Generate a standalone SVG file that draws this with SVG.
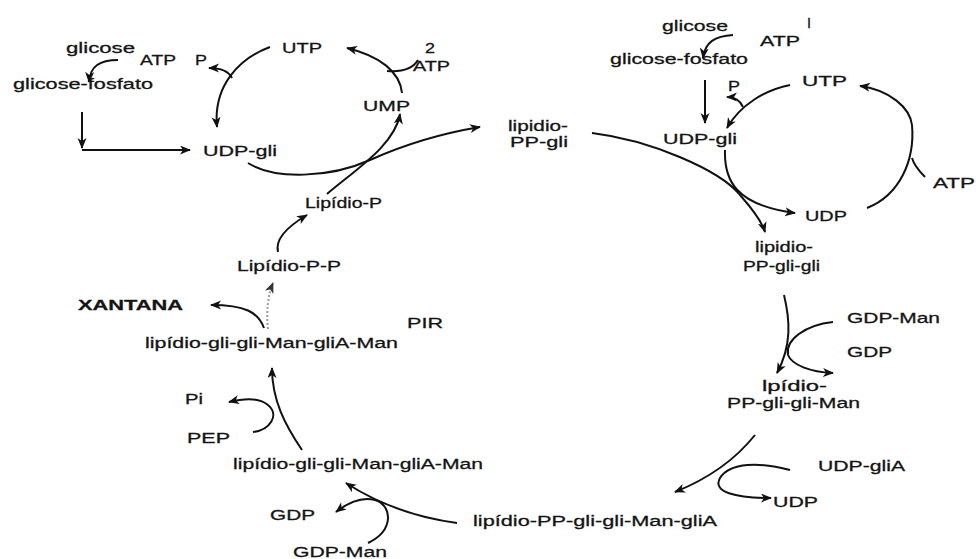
<svg xmlns="http://www.w3.org/2000/svg" width="976" height="559" viewBox="0 0 976 559">
<defs>
<marker id="ah" markerUnits="userSpaceOnUse" markerWidth="12" markerHeight="10" refX="10" refY="4.5" orient="auto">
<path d="M0,0 L11,4.5 L0,9 L3,4.5 z" fill="#111"/>
</marker>
<marker id="ahg" markerUnits="userSpaceOnUse" markerWidth="12" markerHeight="10" refX="10" refY="4.5" orient="auto">
<path d="M0,0 L11,4.5 L0,9 L3,4.5 z" fill="#333"/>
</marker>
</defs>
<style>
text{font-family:"Liberation Sans",Arial,sans-serif;font-size:15.5px;fill:#141414;stroke:#141414;stroke-width:0.3;}
.b{font-weight:bold;}
.c{fill:none;stroke:#111;stroke-width:2;}
.a{marker-end:url(#ah);}
.d{fill:none;stroke:#999;stroke-width:2;stroke-dasharray:2 2;marker-end:url(#ahg);}
</style>
<rect width="976" height="559" fill="#fff"/>
<g id="connectors">
<path class="c a" d="M118,60 C100,60 90,66 89,82"/>
<path class="c a" d="M82,112 L82,148"/>
<path class="c a" d="M82,150 L190,150"/>
<path class="c a" d="M270,47 C240,58 213,85 217,127"/>
<path class="c a" d="M232,78 C228,70 220,68 209,68"/>
<path class="c a" d="M248,163 C275,180 330,178 370,160 C410,142 450,132 480,127"/>
<path class="c a" d="M327,194 C355,170 395,145 400,114"/>
<path class="c a" d="M402,93 C400,72 380,56 347,48"/>
<path class="c" d="M418,60 C412,70 400,72 387,71"/>
<path class="c a" d="M278,252 C275,240 285,228 307,215"/>
<path class="d" d="M268,329 C266,312 268,295 273,283"/>
<path class="c a" d="M264,328 C258,312 245,305 211,305"/>
<path class="c a" d="M302,450 C285,425 272,400 272,368"/>
<path class="c a" d="M253,432 C270,430 280,415 268,405 C260,398 245,398 229,402"/>
<path class="c a" d="M457,523 C420,518 380,505 346,483"/>
<path class="c a" d="M368,543 C395,530 392,505 375,500 C360,496 345,505 336,512"/>
<path class="c a" d="M755,435 C735,460 710,478 675,492"/>
<path class="c a" d="M790,470 C760,462 730,462 720,478 C712,492 735,498 771,498"/>
<path class="c a" d="M784,295 C790,320 792,345 777,373"/>
<path class="c a" d="M833,322 C805,325 785,340 788,355 C792,365 810,372 833,373"/>
<path class="c a" d="M733,35 C715,36 705,42 703,58"/>
<path class="c a" d="M705,80 L705,123"/>
<path class="c a" d="M790,85 C765,90 740,105 727,128"/>
<path class="c a" d="M743,107 C740,100 735,97 727,97"/>
<path class="c a" d="M725,150 C724,180 735,205 795,213"/>
<path class="c a" d="M592,133 C650,140 720,170 740,195 C755,212 762,222 765,232"/>
<path class="c a" d="M867,208 C900,195 915,160 912,125 C910,108 890,90 860,86"/>
<path class="c" d="M925,177 C918,170 914,165 912,158"/>
</g>
<g id="n-glicose-l"><text x="66" y="53" textLength="69" lengthAdjust="spacingAndGlyphs">glicose</text></g>
<g id="n-atp-l"><text x="140" y="65" textLength="36" lengthAdjust="spacingAndGlyphs">ATP</text></g>
<g id="n-p-l"><text x="195" y="65" textLength="12" lengthAdjust="spacingAndGlyphs">P</text></g>
<g id="n-gf-l"><text x="13" y="89" textLength="140" lengthAdjust="spacingAndGlyphs">glicose-fosfato</text></g>
<g id="n-utp-l"><text x="282" y="53" textLength="40" lengthAdjust="spacingAndGlyphs">UTP</text></g>
<g id="n-2atp"><text x="425" y="53" textLength="10" lengthAdjust="spacingAndGlyphs">2</text><text x="413" y="71" textLength="37" lengthAdjust="spacingAndGlyphs">ATP</text></g>
<g id="n-ump"><text x="363" y="111" textLength="47" lengthAdjust="spacingAndGlyphs">UMP</text></g>
<g id="n-udpgli-l"><text x="203" y="156" textLength="74" lengthAdjust="spacingAndGlyphs">UDP-gli</text></g>
<g id="n-lppgli"><text x="508" y="131" textLength="60" lengthAdjust="spacingAndGlyphs">lipidio-</text><text x="510" y="147" textLength="58" lengthAdjust="spacingAndGlyphs">PP-gli</text></g>
<g id="n-lipp"><text x="305" y="208" textLength="77" lengthAdjust="spacingAndGlyphs">Lipídio-P</text></g>
<g id="n-lippp"><text x="237" y="271" textLength="104" lengthAdjust="spacingAndGlyphs">Lipídio-P-P</text></g>
<g id="n-xantana"><text class="b" x="78" y="310" textLength="105" lengthAdjust="spacingAndGlyphs">XANTANA</text></g>
<g id="n-pir"><text x="407" y="328" textLength="36" lengthAdjust="spacingAndGlyphs">PIR</text></g>
<g id="n-lggmgm-1"><text x="145" y="348" textLength="253" lengthAdjust="spacingAndGlyphs">lipídio-gli-gli-Man-gliA-Man</text></g>
<g id="n-pi"><text x="185" y="404" textLength="18" lengthAdjust="spacingAndGlyphs">Pi</text></g>
<g id="n-pep"><text x="187" y="443" textLength="43" lengthAdjust="spacingAndGlyphs">PEP</text></g>
<g id="n-lggmgm-2"><text x="233" y="469" textLength="250" lengthAdjust="spacingAndGlyphs">lipídio-gli-gli-Man-gliA-Man</text></g>
<g id="n-gdp-b"><text x="270" y="520" textLength="45" lengthAdjust="spacingAndGlyphs">GDP</text></g>
<g id="n-gdpman-b"><text x="293" y="557" textLength="94" lengthAdjust="spacingAndGlyphs">GDP-Man</text></g>
<g id="n-lppggmg"><text x="473" y="526" textLength="244" lengthAdjust="spacingAndGlyphs">lipídio-PP-gli-gli-Man-gliA</text></g>
<g id="n-udp-b"><text x="773" y="507" textLength="45" lengthAdjust="spacingAndGlyphs">UDP</text></g>
<g id="n-udpglia"><text x="818" y="471" textLength="87" lengthAdjust="spacingAndGlyphs">UDP-gliA</text></g>
<g id="n-gdpman-r"><text x="847" y="323" textLength="93" lengthAdjust="spacingAndGlyphs">GDP-Man</text></g>
<g id="n-gdp-r"><text x="847" y="357" textLength="45" lengthAdjust="spacingAndGlyphs">GDP</text></g>
<g id="n-lppggm"><text x="762" y="391" textLength="65" lengthAdjust="spacingAndGlyphs">lpídio-</text><text x="727" y="408" textLength="133" lengthAdjust="spacingAndGlyphs">PP-gli-gli-Man</text></g>
<g id="n-glicose-r"><text x="662" y="31" textLength="66" lengthAdjust="spacingAndGlyphs">glicose</text></g>
<g id="n-bar"><text x="807" y="28" font-size="12" textLength="4" lengthAdjust="spacingAndGlyphs">I</text></g>
<g id="n-atp-r"><text x="760" y="46" textLength="40" lengthAdjust="spacingAndGlyphs">ATP</text></g>
<g id="n-gf-r"><text x="610" y="64" textLength="138" lengthAdjust="spacingAndGlyphs">glicose-fosfato</text></g>
<g id="n-p-r"><text x="728" y="91" textLength="12" lengthAdjust="spacingAndGlyphs">P</text></g>
<g id="n-utp-r"><text x="802" y="86" textLength="45" lengthAdjust="spacingAndGlyphs">UTP</text></g>
<g id="n-udpgli-r"><text x="663" y="144" textLength="74" lengthAdjust="spacingAndGlyphs">UDP-gli</text></g>
<g id="n-atp-rr"><text x="933" y="188" textLength="42" lengthAdjust="spacingAndGlyphs">ATP</text></g>
<g id="n-udp-r"><text x="805" y="221" textLength="42" lengthAdjust="spacingAndGlyphs">UDP</text></g>
<g id="n-lppgg"><text x="755" y="252" textLength="58" lengthAdjust="spacingAndGlyphs">lipidio-</text><text x="743" y="271" textLength="77" lengthAdjust="spacingAndGlyphs">PP-gli-gli</text></g>
</svg>
